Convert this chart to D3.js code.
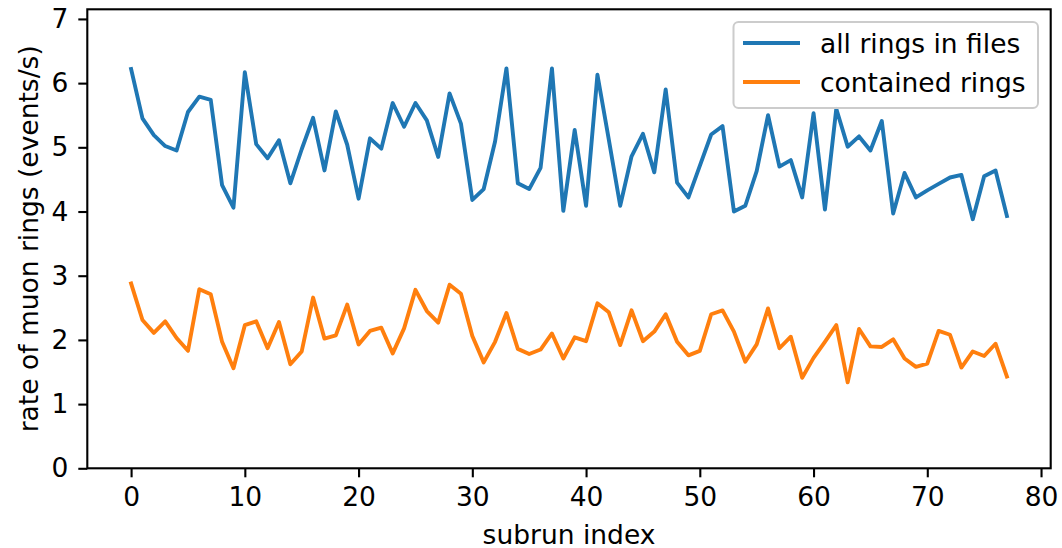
<!DOCTYPE html>
<html>
<head>
<meta charset="utf-8">
<script src="https://cdn.jsdelivr.net/npm/d3@7"></script>
<style>
  html, body { margin: 0; padding: 0; background: #fff; }
  svg { display: block; font-family: "DejaVu Sans", sans-serif; }
</style>
</head>
<body>
<svg id="chart" width="1062" height="548"></svg>
<script>
const subrun = [0,1,2,3,4,5,6,7,8,9,10,11,12,13,14,15,16,17,18,19,20,21,22,23,24,25,26,27,28,29,30,31,32,33,34,35,36,37,38,39,40,41,42,43,44,45,46,47,48,49,50,51,52,53,54,55,56,57,58,59,60,61,62,63,64,65,66,67,68,69,70,71,72,73,74,75,76,77];
const allRings = [6.22,5.45,5.19,5.02,4.95,5.55,5.79,5.74,4.41,4.06,6.17,5.05,4.83,5.11,4.44,4.97,5.46,4.64,5.56,5.04,4.20,5.14,4.98,5.69,5.32,5.69,5.42,4.85,5.84,5.37,4.18,4.35,5.09,6.23,4.44,4.35,4.68,6.23,4.01,5.27,4.09,6.13,5.12,4.09,4.86,5.21,4.61,5.90,4.45,4.22,4.71,5.20,5.33,4.00,4.09,4.63,5.50,4.70,4.80,4.22,5.53,4.03,5.60,5.01,5.17,4.95,5.41,3.97,4.60,4.22,4.33,4.43,4.53,4.57,3.88,4.55,4.64,3.93];
const containedRings = [2.88,2.31,2.11,2.29,2.03,1.83,2.79,2.71,1.97,1.56,2.23,2.29,1.87,2.28,1.62,1.82,2.66,2.02,2.07,2.55,1.93,2.14,2.19,1.79,2.18,2.78,2.45,2.27,2.86,2.72,2.06,1.65,1.97,2.42,1.86,1.78,1.85,2.10,1.71,2.04,1.98,2.57,2.43,1.92,2.46,1.98,2.13,2.40,1.97,1.76,1.83,2.40,2.46,2.13,1.66,1.93,2.49,1.87,2.05,1.41,1.72,1.97,2.23,1.34,2.17,1.90,1.89,2.01,1.71,1.58,1.63,2.14,2.08,1.57,1.82,1.75,1.94,1.43];
const xTicks = [0,10,20,30,40,50,60,70,80];
const yTicks = [0,1,2,3,4,5,6,7];
const seriesNames = ["all rings in files", "contained rings"];
const seriesColors = ["#1f77b4", "#ff7f0e"];

const svg = d3.select("#chart");
const L = 87.3, R = 1050.7, T = 9.3, B = 468.3;
const x = d3.scaleLinear().domain([-3.85, 80.85]).range([L, R]);
const y = d3.scaleLinear().domain([0, 7.15]).range([B, T]);
const fs = 26.5;

// lines
const line = d3.line().x((d, i) => x(subrun[i])).y(d => y(d));
[allRings, containedRings].forEach((s, k) => {
  svg.append("path").datum(s)
    .attr("fill", "none")
    .attr("stroke", seriesColors[k])
    .attr("stroke-width", 3.9)
    .attr("stroke-linejoin", "round")
    .attr("stroke-linecap", "square")
    .attr("d", line);
});

// axes
const xAxis = d3.axisBottom(x).tickValues(xTicks).tickSize(9).tickPadding(10).tickFormat(d3.format("d"));
const yAxis = d3.axisLeft(y).tickValues(yTicks).tickSize(9).tickPadding(10).tickFormat(d3.format("d"));
const gx = svg.append("g").attr("transform", `translate(0,${B})`).call(xAxis);
const gy = svg.append("g").attr("transform", `translate(${L},0)`).call(yAxis);
[gx, gy].forEach(g => {
  g.select(".domain").remove();
  g.selectAll(".tick line").attr("stroke", "#000").attr("stroke-width", 2.1);
  g.selectAll(".tick text").attr("fill", "#000").attr("font-size", fs).attr("font-family", "DejaVu Sans");
});

// frame
svg.append("rect").attr("x", L).attr("y", T).attr("width", R - L).attr("height", B - T)
  .attr("fill", "none").attr("stroke", "#000").attr("stroke-width", 2.1);

// axis labels
svg.append("text").attr("x", (L + R) / 2).attr("y", 544)
  .attr("text-anchor", "middle").attr("font-size", fs).attr("fill", "#000")
  .text("subrun index");
svg.append("text").attr("transform", `translate(38,${(T + B) / 2}) rotate(-90)`)
  .attr("text-anchor", "middle").attr("font-size", fs).attr("fill", "#000")
  .text("rate of muon rings (events/s)");

// legend
const lg = svg.append("g");
lg.append("rect").attr("x", 733.5).attr("y", 22).attr("width", 304.5).attr("height", 86)
  .attr("rx", 5).attr("fill", "#fff").attr("fill-opacity", 0.8)
  .attr("stroke", "#cccccc").attr("stroke-width", 2);
seriesNames.forEach((name, k) => {
  const yy = 43 + k * 39;
  lg.append("line").attr("x1", 743).attr("x2", 800).attr("y1", yy).attr("y2", yy)
    .attr("stroke", seriesColors[k]).attr("stroke-width", 3.9);
  lg.append("text").attr("x", 820).attr("y", yy + 9.5).attr("font-size", fs).attr("fill", "#000").text(name);
});
</script>
</body>
</html>
